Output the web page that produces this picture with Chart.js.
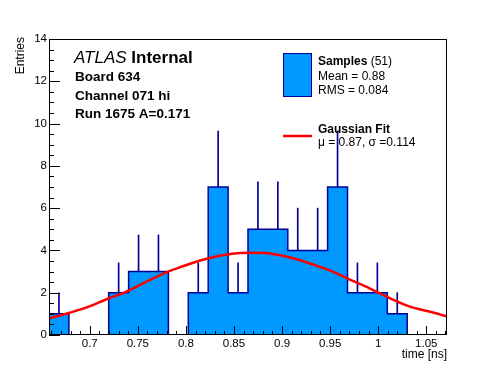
<!DOCTYPE html>
<html>
<head>
<meta charset="utf-8">
<script src="https://cdn.jsdelivr.net/npm/chart.js@4/dist/chart.umd.min.js"></script>
<style>
html, body { margin: 0; padding: 0; background: #fff; }
#grafico { display: block; }
</style>
</head>
<body>
<canvas id="grafico" width="496" height="372"></canvas>
<script>
// bordas dos bins (20 bins)
const binEdges = [0.6576, 0.6783, 0.6990, 0.7197, 0.7404, 0.7611, 0.7818, 0.8025, 0.8232, 0.8439, 0.8646,
	0.8853, 0.9060, 0.9267, 0.9474, 0.9681, 0.9888, 1.0095, 1.0302, 1.0509, 1.0716]
const contagens = [1, 0, 0, 2, 3, 3, 0, 2, 7, 2, 5, 5, 4, 4, 7, 2, 2, 1, 0, 0]
const erros = [1, 0, 0, 1.41, 1.73, 1.73, 0, 1.41, 2.65, 1.41, 2.24, 2.24, 2, 2, 2.65, 1.41, 1.41, 1, 0, 0]
// curva do ajuste gaussiano
const ajusteX = [0.657, 0.679, 0.699, 0.720, 0.736, 0.760, 0.781, 0.796, 0.814, 0.835, 0.850, 0.866,
	0.882, 0.897, 0.918, 0.937, 0.949, 0.970, 0.991, 1.012, 1.033, 1.054, 1.0716]
const ajusteY = [0.77, 1.05, 1.34, 1.74, 2.0, 2.55, 2.99, 3.24, 3.51, 3.75, 3.86, 3.89,
	3.88, 3.78, 3.55, 3.26, 3.07, 2.63, 2.21, 1.74, 1.34, 1.10, 0.88]
const xTicks = [0.7, 0.75, 0.8, 0.85, 0.9, 0.95, 1, 1.05]
const yTicks = [0, 2, 4, 6, 8, 10, 12, 14]
const xMin = 0.6576
const xMax = 1.0716
const yMax = 14

const FONTE = '"Liberation Sans", Arial, Helvetica, sans-serif'
const AZUL = '#0099ff'
const AZUL_ESCURO = '#000099'

// ponto i = borda esquerda do bin i; o ultimo fecha o histograma
const pontosHist = binEdges.map((e, i) => ({x: e, y: contagens[Math.min(i, contagens.length - 1)]}))
const barrasErro = contagens.map((c, i) => ({x: (binEdges[i] + binEdges[i + 1]) / 2, y: [c, c + erros[i]]}))
const pontosAjuste = ajusteX.map((x, i) => ({x: x, y: ajusteY[i]}))

// moldura, tracinhos e textos no estilo ROOT
const estiloRoot = {
	id: 'estiloRoot',
	afterDraw(chart) {
		const ctx = chart.ctx
		const a = chart.chartArea
		const sx = chart.scales.x
		const sy = chart.scales.y
		ctx.save()
		ctx.strokeStyle = '#000'
		ctx.lineWidth = 1
		ctx.strokeRect(a.left + 0.5, a.top + 0.5, a.right - a.left - 1, a.bottom - a.top - 1)
		ctx.beginPath()
		// y: maiores a cada 2, menores a cada 0.5
		for (let v = 0; v <= yMax; v += 0.5) {
			const py = Math.round(sy.getPixelForValue(v)) + 0.5
			const len = (v % 2 === 0) ? 11 : 5
			ctx.moveTo(a.left, py)
			ctx.lineTo(a.left + len, py)
		}
		// x: maiores a cada 0.05, menores a cada 0.01
		for (let k = 66; k <= 107; k++) {
			const v = k / 100
			if (v < xMin || v > xMax) continue
			const px = Math.round(sx.getPixelForValue(v)) + 0.5
			const len = (k % 5 === 0) ? 9 : 4
			ctx.moveTo(px, a.bottom)
			ctx.lineTo(px, a.bottom - len)
		}
		ctx.stroke()

		ctx.fillStyle = '#000'
		ctx.textBaseline = 'alphabetic'
		// titulos dos eixos
		ctx.font = '12px ' + FONTE
		ctx.textAlign = 'right'
		ctx.fillText('time [ns]', a.right, 358)
		ctx.save()
		ctx.translate(24, a.top - 2)
		ctx.rotate(-Math.PI / 2)
		ctx.fillText('Entries', 0, 0)
		ctx.restore()

		// rotulo ATLAS
		ctx.textAlign = 'left'
		ctx.font = 'italic 17px ' + FONTE
		ctx.fillText('ATLAS', 74, 63)
		const w = ctx.measureText('ATLAS ').width
		ctx.font = 'bold 17px ' + FONTE
		ctx.fillText('Internal', 74 + w, 63)
		ctx.font = 'bold 13.5px ' + FONTE
		ctx.fillText('Board 634', 75, 81)
		ctx.fillText('Channel 071 hi', 75, 99.5)
		ctx.fillText('Run 1675 A=0.171', 75, 117.5)

		// legenda
		ctx.fillStyle = AZUL
		ctx.fillRect(283, 53, 29, 44)
		ctx.strokeStyle = AZUL_ESCURO
		ctx.strokeRect(283.5, 53.5, 28, 43)
		ctx.fillStyle = '#000'
		ctx.font = 'bold 12px ' + FONTE
		ctx.fillText('Samples', 318, 65)
		const ws = ctx.measureText('Samples').width
		ctx.font = '12px ' + FONTE
		ctx.fillText(' (51)', 318 + ws, 65)
		ctx.fillText('Mean = 0.88', 318, 80)
		ctx.fillText('RMS = 0.084', 318, 93.5)
		ctx.strokeStyle = '#ff0000'
		ctx.lineWidth = 2.5
		ctx.beginPath()
		ctx.moveTo(283, 136)
		ctx.lineTo(312, 136)
		ctx.stroke()
		ctx.font = 'bold 12px ' + FONTE
		ctx.fillText('Gaussian Fit', 318, 133)
		ctx.font = '12px ' + FONTE
		ctx.fillText('\u03bc = 0.87, \u03c3 =0.114', 318, 145.5)
		ctx.restore()
	}
}

const chart = new Chart(document.getElementById('grafico'), {
	type: 'line',
	data: {
		datasets: [
			{
				label: 'Gaussian Fit',
				data: pontosAjuste,
				borderColor: '#ff0000',
				borderWidth: 2.5,
				pointRadius: 0,
				cubicInterpolationMode: 'monotone',
				fill: false,
				order: 0
			},
			{
				type: 'bar',
				label: 'erros',
				data: barrasErro,
				backgroundColor: AZUL_ESCURO,
				borderWidth: 0,
				barThickness: 1,
				order: 1
			},
			{
				label: 'Samples',
				data: pontosHist,
				stepped: 'before',
				borderColor: AZUL_ESCURO,
				borderWidth: 1.5,
				backgroundColor: AZUL,
				fill: 'origin',
				pointRadius: 0,
				order: 2
			}
		]
	},
	options: {
		responsive: false,
		animation: false,
		layout: { padding: { left: 0, right: 49, top: 39, bottom: 0 } },
		plugins: { legend: { display: false }, tooltip: { enabled: false } },
		scales: {
			x: {
				type: 'linear',
				min: xMin,
				max: xMax,
				offset: false,
				grid: { display: false, drawTicks: false },
				border: { display: false },
				afterBuildTicks: s => { s.ticks = xTicks.map(v => ({value: v})) },
				afterFit: s => { s.height = 37 },
				ticks: { padding: 2, color: '#000', autoSkip: false, maxRotation: 0, font: { family: FONTE, size: 11.5 }, callback: v => String(v) }
			},
			y: {
				type: 'linear',
				min: 0,
				max: yMax,
				grid: { display: false, drawTicks: false },
				border: { display: false },
				afterBuildTicks: s => { s.ticks = yTicks.map(v => ({value: v})) },
				afterFit: s => { s.width = 49 },
				ticks: { padding: 2, color: '#000', autoSkip: false, font: { family: FONTE, size: 11.5 }, callback: v => String(v) }
			}
		}
	},
	plugins: [estiloRoot]
});
</script>
</body>
</html>
